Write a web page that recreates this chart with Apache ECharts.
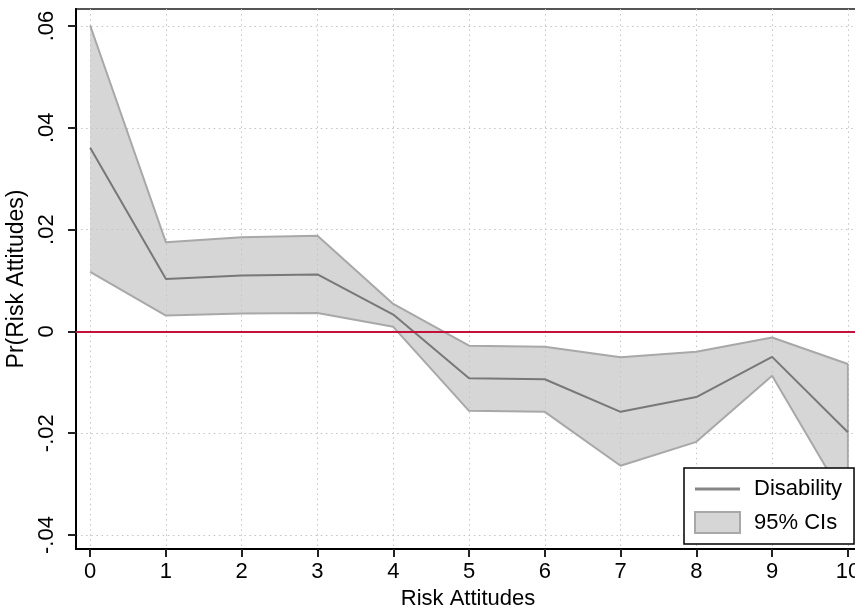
<!DOCTYPE html>
<html>
<head>
<meta charset="utf-8">
<script src="https://cdn.jsdelivr.net/npm/echarts@6/dist/echarts.min.js"></script>
<style>
html,body{margin:0;padding:0;background:#fff;}
#chart{width:855px;height:607px;}
</style>
</head>
<body>
<div id="chart"></div>
<script>
// Data
var xValues = [0, 1, 2, 3, 4, 5, 6, 7, 8, 9, 10];
var meanVals = [0.0361, 0.0103, 0.0110, 0.0112, 0.0033, -0.0092, -0.0094, -0.0158, -0.0129, -0.0050, -0.0198];
var upperVals = [0.0601, 0.0175, 0.0185, 0.0188, 0.0054, -0.0028, -0.0030, -0.0051, -0.0040, -0.0012, -0.0064];
var lowerVals = [0.0117, 0.0031, 0.0035, 0.0036, 0.0009, -0.0156, -0.0158, -0.0264, -0.0217, -0.0087, -0.0340];
var xTicks = [0, 1, 2, 3, 4, 5, 6, 7, 8, 9, 10];
var yTicks = [-0.04, -0.02, 0, 0.02, 0.04, 0.06];
var seriesNames = ['Disability', '95% CIs'];
var xTitle = 'Risk Attitudes';
var yTitle = 'Pr(Risk Attitudes)';

var FONT = 'Liberation Sans, Arial, Helvetica, sans-serif';

function pairs(vals) {
  return xValues.map(function (x, i) { return [x, vals[i]]; });
}

function fmtY(v) {
  if (Math.abs(v) < 1e-9) return '0';
  var s = Math.abs(v).toFixed(2).replace(/^0/, '');
  return (v < 0 ? '-' : '') + s;
}

// Band polygon drawn through the axes' own coordinate mapping
function renderBand(params, api) {
  if (params.dataIndex !== 0) return null;
  var n = xValues.length;
  var pts = [];
  for (var i = 0; i < n; i++) pts.push(api.coord([xValues[i], upperVals[i]]));
  for (var j = n - 1; j >= 0; j--) pts.push(api.coord([xValues[j], lowerVals[j]]));
  var rTop = api.coord([xValues[n - 1], upperVals[n - 1]]);
  var rBot = api.coord([xValues[n - 1], lowerVals[n - 1]]);
  return {
    type: 'group',
    children: [
      {type: 'polygon', shape: {points: pts}, style: {fill: '#d6d6d6', stroke: null}},
      {type: 'line', shape: {x1: rTop[0], y1: rTop[1], x2: rBot[0], y2: rBot[1]},
       style: {stroke: '#a8a8a8', lineWidth: 2}}
    ]
  };
}

var chart = echarts.init(document.getElementById('chart'), null, {renderer: 'canvas'});
var option = {
  animation: false,
  backgroundColor: '#fff',
  grid: {
    left: 76, top: 9, width: 784, height: 540,
    outerBoundsMode: 'none', containLabel: false,
    show: true, borderColor: '#555', borderWidth: 2, backgroundColor: 'transparent'
  },
  xAxis: {
    type: 'value',
    min: -0.187, max: 10.16,
    name: xTitle, nameLocation: 'middle', nameGap: 36,
    nameTextStyle: {fontSize: 22, color: '#000', fontFamily: FONT},
    axisLine: {show: true, onZero: false, lineStyle: {color: '#000', width: 2}},
    axisTick: {show: true, length: 8, lineStyle: {color: '#222', width: 2}, customValues: xTicks},
    axisLabel: {show: true, customValues: xTicks, fontSize: 22, color: '#000', fontFamily: FONT, margin: 12,
      hideOverlap: false, showMinLabel: true, showMaxLabel: true,
      formatter: function (v) { return String(Math.round(v)); }},
    splitLine: {show: true, lineStyle: {color: '#c4c4c4', width: 1, type: [1.5, 3.6]}}
  },
  yAxis: {
    type: 'value',
    min: -0.04275, max: 0.06334,
    name: yTitle, nameLocation: 'middle', nameGap: 39,
    nameTextStyle: {fontSize: 23, color: '#000', fontFamily: FONT},
    axisLine: {show: true, onZero: false, lineStyle: {color: '#000', width: 2}},
    axisTick: {show: true, length: 8, lineStyle: {color: '#222', width: 2}, customValues: yTicks},
    axisLabel: {show: true, customValues: yTicks, rotate: 90, fontSize: 22, color: '#000', fontFamily: FONT, margin: 18,
      formatter: fmtY},
    splitLine: {show: true, lineStyle: {color: '#c4c4c4', width: 1, type: [1.5, 3.6]}}
  },
  legend: {
    orient: 'vertical', left: 684, top: 468,
    padding: [10, 12, 10, 10], itemGap: 11, itemWidth: 45, itemHeight: 21,
    backgroundColor: '#fff', borderColor: '#000', borderWidth: 1.5, borderRadius: 0,
    selectedMode: false,
    textStyle: {fontSize: 22, color: '#000', fontFamily: FONT, padding: [0, 0, 0, 9]},
    data: [
      {name: seriesNames[0], icon: 'path://M0,0H45V3H0Z', itemStyle: {color: '#858585', borderWidth: 0}},
      {name: seriesNames[1], icon: 'rect', itemStyle: {color: '#d6d6d6', borderColor: '#a8a8a8', borderWidth: 2}}
    ]
  },
  series: [
    {
      name: seriesNames[1], type: 'custom', renderItem: renderBand,
      data: [[xValues[0], upperVals[0]]], silent: true, z: -1,
      itemStyle: {color: '#d6d6d6'}, clip: true
    },
    {
      name: 'ciUpper', type: 'line', data: pairs(upperVals), symbol: 'none', silent: true,
      lineStyle: {color: '#a8a8a8', width: 2}, z: 2
    },
    {
      name: 'ciLower', type: 'line', data: pairs(lowerVals), symbol: 'none', silent: true,
      lineStyle: {color: '#a8a8a8', width: 2}, z: 2
    },
    {
      name: seriesNames[0], type: 'line', data: pairs(meanVals), symbol: 'none', silent: true,
      lineStyle: {color: '#787878', width: 2}, itemStyle: {color: '#858585'}, z: 3,
      markLine: {
        silent: true, symbol: 'none', label: {show: false},
        lineStyle: {color: '#c4103a', width: 2, type: 'solid'},
        data: [{yAxis: 0}]
      }
    }
  ]
};
chart.setOption(option);
</script>
</body>
</html>
